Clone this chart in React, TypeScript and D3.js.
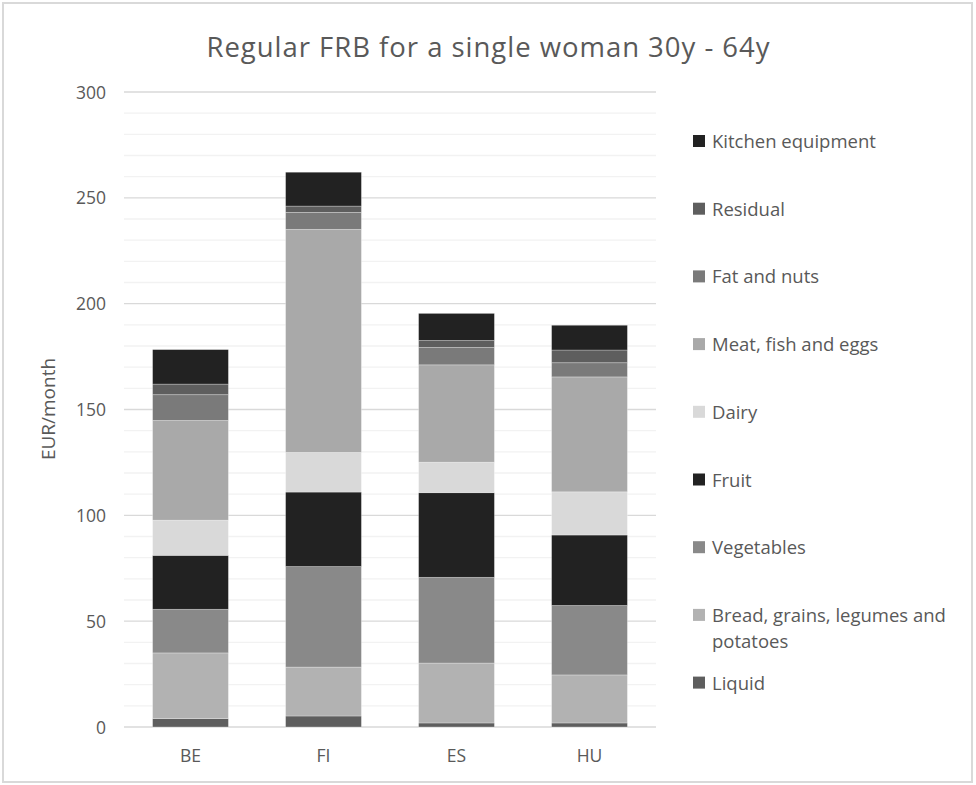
import React from "react";
import * as d3 from "d3";

const categories = ["BE", "FI", "ES", "HU"];
const seriesNames = [
  "Liquid",
  "Bread, grains, legumes and potatoes",
  "Vegetables",
  "Fruit",
  "Dairy",
  "Meat, fish and eggs",
  "Fat and nuts",
  "Residual",
  "Kitchen equipment",
];
const liquid = [4.0, 5.2, 1.9, 1.9];
const bread = [31.0, 23.1, 28.3, 22.7];
const vegetables = [20.6, 47.5, 40.5, 32.8];
const fruit = [25.5, 35.2, 40.0, 33.3];
const dairy = [16.6, 18.7, 14.4, 20.4];
const meat = [47.1, 105.4, 46.0, 54.3];
const fat = [12.2, 8.0, 8.2, 6.7];
const residual = [5.0, 3.0, 3.3, 6.0];
const kitchen = [16.3, 16.0, 12.8, 11.7];
const seriesColors = ["#5e5e5e", "#b2b2b2", "#898989", "#222222", "#d9d9d9", "#a9a9a9", "#7a7a7a", "#5e5e5e", "#222222"];
const yTicks = [0, 50, 100, 150, 200, 250, 300];
const title = "Regular FRB for a single woman 30y - 64y";
const yTitle = "EUR/month";

const W = 976;
const H = 785;
const FONT = "'Open Sans', 'Noto Sans', sans-serif";
const TXT = "#595959";

export default function App() {
  const seriesValues = [liquid, bread, vegetables, fruit, dairy, meat, fat, residual, kitchen];
  const rows = categories.map((c, i) => {
    const r: any = { cat: c };
    seriesNames.forEach((s, j) => (r[s] = seriesValues[j][i]));
    return r;
  });
  const stacked = d3.stack().keys(seriesNames)(rows);

  const x = d3.scaleBand().domain(categories).range([124, 656]).paddingInner(0.43).paddingOuter(0.215);
  const y = d3.scaleLinear().domain([0, 300]).range([727, 92]);
  const minor = d3.range(10, 300, 10).filter((v) => v % 50 !== 0);

  const legendX = 693;
  const legendY0 = 141;
  const legendStep = 67.7;
  const legendOrder = [...seriesNames].reverse();

  return (
    <svg width={W} height={H} style={{ position: "absolute", left: 0, top: 0, display: "block" }}>
      <rect x={0} y={0} width={W} height={H} fill="#ffffff" />
      <rect x={3} y={3} width={969} height={779} fill="#ffffff" stroke="#d9d9d9" strokeWidth={2} />
      <text x={488} y={57} textAnchor="middle" fontFamily={FONT} fontSize={27.5} fill={TXT} textLength={563} lengthAdjust="spacing">
        {title}
      </text>
      {minor.map((v) => (
        <line key={"m" + v} x1={124} x2={656} y1={y(v)} y2={y(v)} stroke="#f2f2f2" strokeWidth={1.3} />
      ))}
      {yTicks.map((v) => (
        <line key={"g" + v} x1={124} x2={656} y1={y(v)} y2={y(v)} stroke="#d9d9d9" strokeWidth={1.3} />
      ))}
      {yTicks.map((v) => (
        <text key={"t" + v} x={106} y={y(v) + 6.5} textAnchor="end" fontFamily={FONT} fontSize={17.5} fill={TXT}>
          {v}
        </text>
      ))}
      <text
        transform={`translate(55,409) rotate(-90)`}
        textAnchor="middle"
        fontFamily={FONT}
        fontSize={19}
        fill={TXT}
      >
        {yTitle}
      </text>
      {stacked.map((s, j) => (
        <g key={s.key} fill={seriesColors[j]}>
          {s.map((d, i) => (
            <rect
              key={i}
              x={x(categories[i])}
              y={y(d[1])}
              width={x.bandwidth()}
              height={y(d[0]) - y(d[1])}
              stroke="#ffffff"
              strokeOpacity={0.35}
              strokeWidth={0.8}
            />
          ))}
        </g>
      ))}
      {categories.map((c) => (
        <text key={c} x={(x(c) as number) + x.bandwidth() / 2} y={762} textAnchor="middle" fontFamily={FONT} fontSize={17.5} fill={TXT}>
          {c}
        </text>
      ))}
      {legendOrder.map((name, k) => {
        const idx = seriesNames.indexOf(name);
        const cy = legendY0 + k * legendStep;
        const lines = name === "Bread, grains, legumes and potatoes" ? ["Bread, grains, legumes and", "potatoes"] : [name];
        return (
          <g key={name}>
            <rect x={legendX} y={cy - 6} width={12} height={12} fill={seriesColors[idx]} />
            {lines.map((ln, li) => (
              <text key={li} x={712} y={cy + 7 + li * 26} fontFamily={FONT} fontSize={18.5} fill={TXT}>
                {ln}
              </text>
            ))}
          </g>
        );
      })}
    </svg>
  );
}
